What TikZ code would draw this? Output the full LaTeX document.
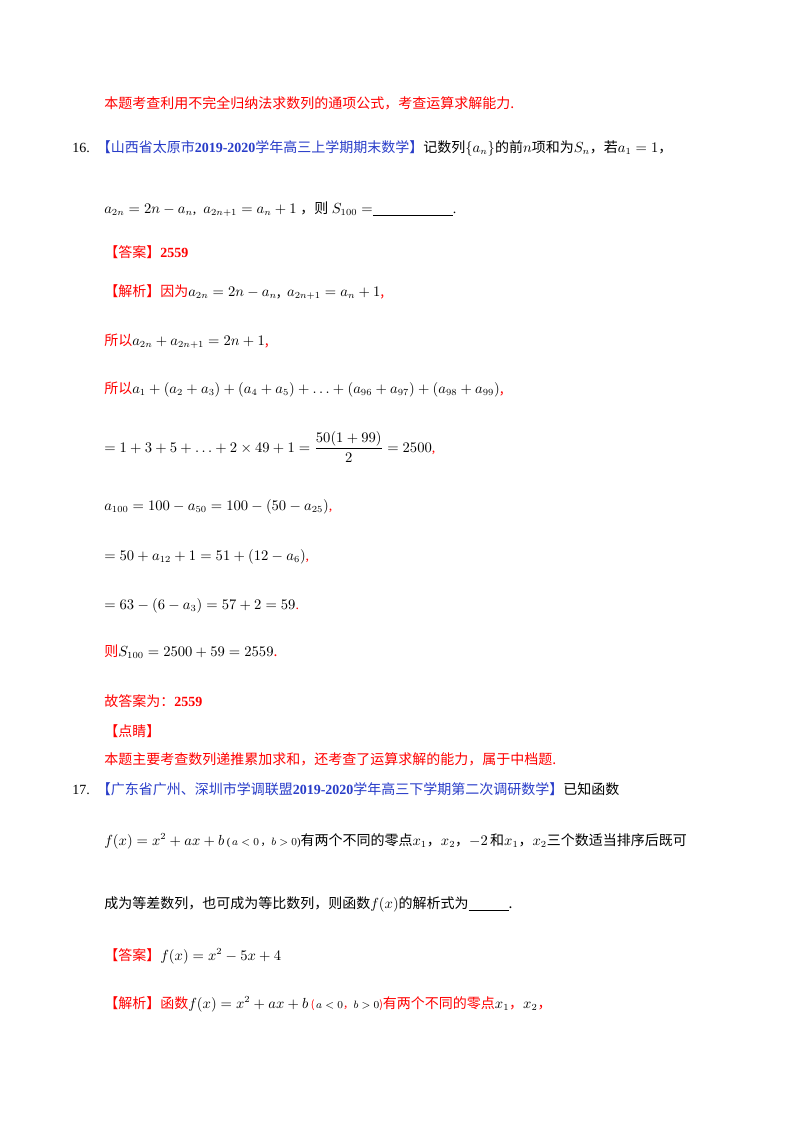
\documentclass[tikz,border=0pt]{standalone}
\usepackage{amsmath}
\usepackage{fontspec}
\setmainfont{Liberation Serif}
\newfontfamily\cjk{Noto Sans CJK SC}
\definecolor{rd}{RGB}{255,0,0}
\definecolor{bl}{RGB}{40,60,200}
\begin{document}
\begin{tikzpicture}[x=0.75pt,y=-0.75pt,
  t/.style={anchor=base west,inner sep=0pt,font=\fontsize{10.5}{12}\selectfont},
  r/.style={t,text=rd}]
\useasboundingbox (0,0) rectangle (800,1132);
\node[r] (l1) at (104,108) {\cjk 本题考查利用不完全归纳法求数列的通项公式，考查运算求解能力.};
\node[t] (n16) at (72,152) {16.\ \ \textcolor{bl}{\cjk 【山西省太原市\textbf{\rmfamily 2019-2020}学年高三上学期期末数学】}\cjk 记数列$\{a_n\}$的前$n$项和为$S_n$，若$a_1=1$，};
\node[t] (l3) at (104,213) {$a_{2n}=2n-a_n$, \ $a_{2n+1}=a_n+1$ {\cjk ，则} $S_{100}=$\underline{\hspace{60pt}}.};
\node[r] (l4) at (104,257) {\cjk 【答案】\textbf{\rmfamily 2559}};
\node[r] (l5) at (104,296) {\cjk 【解析】因为\color{black}$a_{2n}=2n-a_n$, \ $a_{2n+1}=a_n+1$\color{rd},};
\node[r] (l6) at (104,345) {\cjk 所以\color{black}$a_{2n}+a_{2n+1}=2n+1$\color{rd},};
\node[r] (l7) at (104,393) {\cjk 所以\color{black}$a_1+(a_2+a_3)+(a_4+a_5)+\ldots+(a_{96}+a_{97})+(a_{98}+a_{99})$\color{rd},};
\node[t] (l8) at (104,452) {$=1+3+5+\ldots+2\times49+1=\dfrac{50(1+99)}{2}=2500$\color{rd},};
\node[t] (l9) at (104,510) {$a_{100}=100-a_{50}=100-(50-a_{25})$\color{rd},};
\node[t] (l10) at (104,560) {$=50+a_{12}+1=51+(12-a_6)$\color{rd},};
\node[t] (l11) at (104,609) {$=63-(6-a_3)=57+2=59$\color{rd}.};
\node[r] (l12) at (104,656) {\cjk 则\color{black}$S_{100}=2500+59=2559$\color{rd}.};
\node[r] (l13) at (104,706) {\cjk 故答案为：\textbf{\rmfamily 2559}};
\node[r] (l14) at (104,736) {\cjk 【点睛】};
\node[r] (l15) at (104,764) {\cjk 本题主要考查数列递推累加求和，还考查了运算求解的能力，属于中档题.};
\node[t] (n17) at (72,794) {17.\ \ \textcolor{bl}{\cjk 【广东省广州、深圳市学调联盟\textbf{\rmfamily 2019-2020}学年高三下学期第二次调研数学】}\cjk 已知函数};
\node[t] (l17) at (104,845) {$f(x)=x^2+ax+b$\,{\footnotesize(\,$a<0$\,{\cjk ，}$b>0$)}{\cjk 有两个不同的零点}$x_1${\cjk ，}$x_2${\cjk ，}$-2$\,{\cjk 和}$x_1${\cjk ，}$x_2${\cjk 三个数适当排序后既可}};
\node[t] (l18) at (104,908) {\cjk 成为等差数列，也可成为等比数列，则函数$f(x)$的解析式为\underline{\hspace{30pt}}.};
\node[r] (l19) at (104,960) {\cjk 【答案】\color{black}$f(x)=x^2-5x+4$};
\node[r] (l20) at (104,1008) {\cjk 【解析】函数\color{black}$f(x)=x^2+ax+b$\color{rd}\,{\footnotesize(\,\color{black}$a<0$\color{rd}，\color{black}$b>0$\color{rd})}有两个不同的零点\color{black}$x_1$\color{rd}，\color{black}$x_2$\color{rd}，};
\end{tikzpicture}
\end{document}
